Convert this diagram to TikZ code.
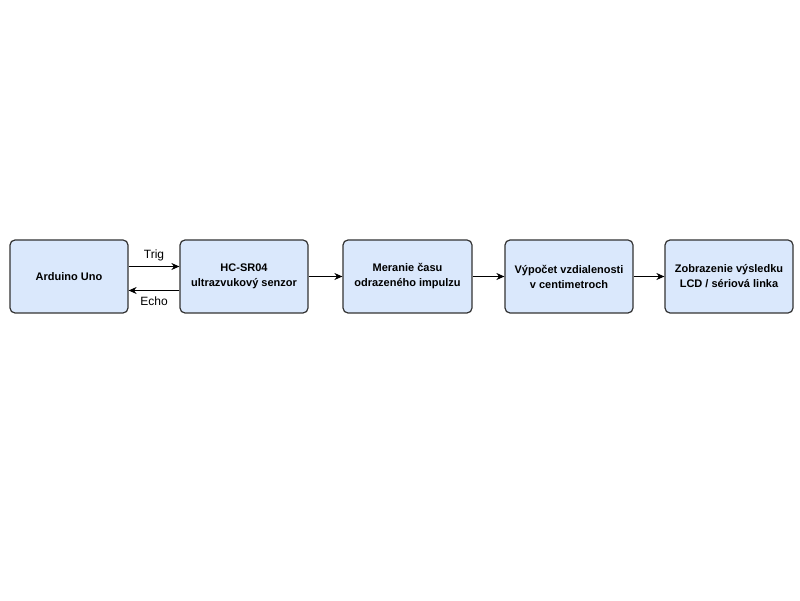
\documentclass[tikz,border=0pt]{standalone}
\usepackage{fontspec}
\setmainfont{Liberation Sans}
\usetikzlibrary{arrows.meta,positioning}
\definecolor{boxfill}{HTML}{DAE8FC}
\definecolor{boxline}{HTML}{333333}
\tikzset{%
  block/.style = {shape=rectangle, rounded corners=5pt, draw=boxline, line width=1.2pt,%
                  fill=boxfill, align=center, minimum height=73pt,%
                  font=\fontsize{11}{15}\selectfont\bfseries},%
  link/.style  = {-{Stealth[length=8pt,width=7pt]}, line width=1.3pt},%
  tag/.style   = {font=\fontsize{12}{14}\selectfont}
}
\begin{document}
\begin{tikzpicture}[x=1pt,y=1pt]
	\useasboundingbox (0,0) rectangle (800,600);
	\node [block, minimum width=118pt] (uno) at (69,323.5) {Arduino Uno};
	\node [block, minimum width=128pt] (sensor) at (244,323.5) {HC-SR04\\ultrazvukový senzor};
	\node [block, minimum width=129pt] (time) at (407.5,323.5) {Meranie času\\odrazeného impulzu};
	\node [block, minimum width=128pt] (dist) at (569,323.5) {Výpočet vzdialenosti\\v centimetroch};
	\node [block, minimum width=128pt] (show) at (729,323.5) {Zobrazenie výsledku\\LCD / sériová linka};
	% signals between board and sensor
	\draw [link] ([yshift=10pt]uno.east) -- node [tag, above=2pt] {Trig} ([yshift=10pt]sensor.west);
	\draw [link] ([yshift=-14pt]sensor.west) -- node [tag, below=2pt] {Echo} ([yshift=-14pt]uno.east);
	% processing chain
	\draw [link] (sensor) -- (time);
	\draw [link] (time) -- (dist);
	\draw [link] (dist) -- (show);
\end{tikzpicture}
\end{document}
